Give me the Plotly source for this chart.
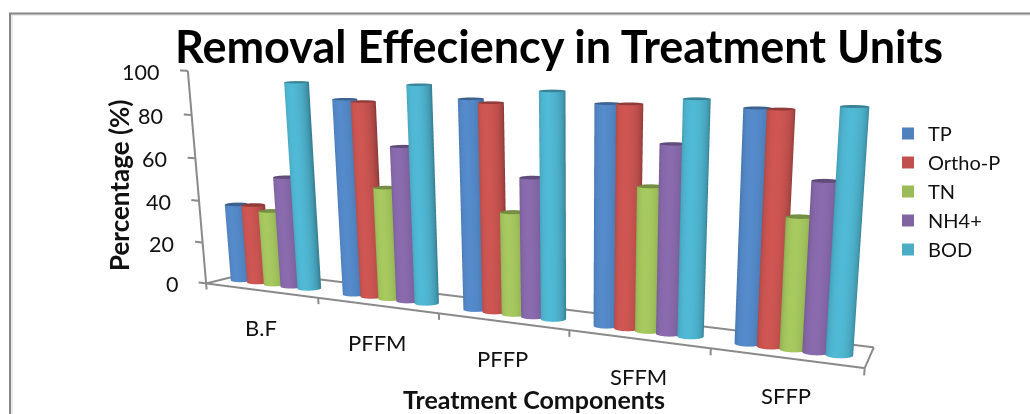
import numpy as np
import plotly.graph_objects as go

CATEGORIES = ["B.F", "PFFM", "PFFP", "SFFM", "SFFP"]
TP = [37, 89.8, 93.4, 94.9, 96.7]
ORTHO_P = [37.5, 89.3, 92.3, 95.3, 96.8]
TN = [35.5, 51.6, 45.9, 62.2, 55.1]
NH4 = [52.2, 70.7, 61.7, 80.3, 70.1]
BOD = [96, 98.1, 98.7, 98.9, 99.4]
SERIES_NAMES = ["TP", "Ortho-P", "TN", "NH4+", "BOD"]
SERIES_VALUES = [TP, ORTHO_P, TN, NH4, BOD]
SERIES_COLORS = [(79, 129, 189), (192, 80, 77), (155, 187, 89), (128, 100, 162), (75, 172, 198)]
Z_TICKS = [0, 20, 40, 60, 80, 100]

FIG_W, FIG_H = 1030, 1500
FONT = "Lato"
AXIS_GREY = "#8a8a8a"
TEXT = "#111111"

# Cylinder geometry, in category and depth units of the scene
RADIUS_X = 0.082
RADIUS_Y = 0.178
BAR_STEP = 0.151
GROUP_OFFSET = -0.06
SEGMENTS = 48

# Floor extents
FLOOR_BACK = 1.15
FLOOR_BACK_END = 4.84

# Scene box and the size of one data unit inside it
X_RANGE = [-0.1, 5.02]
Y_RANGE = [-0.05, FLOOR_BACK + 0.05]
Z_RANGE = [-4, 100.5]
UNIT = np.array([1 / 5, 0.0921, 0.283 / 100])
ASPECT = [(r[1] - r[0]) * u for r, u in zip((X_RANGE, Y_RANGE, Z_RANGE), UNIT)]

# Camera given relative to the floor-to-100 box, then moved to the padded box
box_mid = np.array([sum(X_RANGE) / 2, sum(Y_RANGE) / 2, sum(Z_RANGE) / 2])
floor_mid = np.array([2.5, 0.5, 50])
cam_shift = (box_mid - floor_mid) * UNIT
EYE = np.array([1.281, -2.016, 0.353]) - cam_shift
CENTER = np.array([0.2136, -0.2184, -0.631]) - cam_shift
VIEW_ANGLE = np.arctan2(EYE[1], EYE[0])


def shade(rgb, factor):
    return "rgb(%d,%d,%d)" % tuple(min(255, int(c * factor)) for c in rgb)


def cylinder(cx, height, rgb, name):
    angles = np.linspace(0, 2 * np.pi, SEGMENTS, endpoint=False)
    xs = cx + RADIUS_X * np.cos(angles)
    ys = 0.5 + RADIUS_Y * np.sin(angles)
    facing = np.cos(angles - VIEW_ANGLE + 0.35)
    side = [shade(rgb, 0.76 + 0.32 * max(f, 0) ** 0.8) for f in facing]
    x = np.concatenate([xs, xs, xs, [cx]])
    y = np.concatenate([ys, ys, ys, [0.5]])
    z = np.concatenate([np.zeros(SEGMENTS), np.full(SEGMENTS, height), np.full(SEGMENTS, height), [height]])
    colors = side + side + [shade(rgb, 0.74)] * SEGMENTS + [shade(rgb, 0.78)]
    i, j, k = [], [], []
    for s in range(SEGMENTS):
        n = (s + 1) % SEGMENTS
        i += [s, n]
        j += [n, SEGMENTS + n]
        k += [SEGMENTS + s, SEGMENTS + s]
        i.append(2 * SEGMENTS + s)
        j.append(2 * SEGMENTS + n)
        k.append(3 * SEGMENTS)
    return go.Mesh3d(
        x=x, y=y, z=z, i=i, j=j, k=k, vertexcolor=colors, name=name, showlegend=False, hoverinfo="skip",
        flatshading=False,
        lighting=dict(ambient=1, diffuse=0, specular=0, fresnel=0, roughness=1),
    )


def axis_line(x, y, z):
    return go.Scatter3d(x=x, y=y, z=z, mode="lines", line=dict(color=AXIS_GREY, width=4),
                        showlegend=False, hoverinfo="skip")


fig = go.Figure()
n_cat = len(CATEGORIES)

# Floor outline, each edge on its own, then category ticks and the value axis
fig.add_trace(axis_line([0, n_cat], [0, 0], [0, 0]))
fig.add_trace(axis_line([n_cat, FLOOR_BACK_END], [0, FLOOR_BACK], [0, 0]))
fig.add_trace(axis_line([FLOOR_BACK_END, 0], [FLOOR_BACK, FLOOR_BACK], [0, 0]))
fig.add_trace(axis_line([0, 0], [FLOOR_BACK, 0], [0, 0]))
for t in range(n_cat + 1):
    fig.add_trace(axis_line([t, t], [0, 0], [0, -3]))
fig.add_trace(axis_line([0, 0], [0, 0], [0, 100]))
for v in Z_TICKS:
    fig.add_trace(axis_line([0, -0.07], [0, 0], [v, v]))

for s, (name, values, rgb) in enumerate(zip(SERIES_NAMES, SERIES_VALUES, SERIES_COLORS)):
    for c, value in enumerate(values):
        fig.add_trace(cylinder(c + 0.5 + GROUP_OFFSET + (s - 2) * BAR_STEP, value, rgb, name))
    fig.add_trace(go.Scatter3d(
        x=[None], y=[None], z=[None], mode="markers", name=name,
        marker=dict(symbol="square", size=22, color=shade(rgb, 1)), hoverinfo="skip",
    ))

scene_notes = []
for c, label in enumerate(CATEGORIES):
    scene_notes.append(dict(x=c + 0.5, y=0, z=0, text=label, showarrow=False, yshift=-37,
                            font=dict(family=FONT, size=22, color=TEXT)))
for v in Z_TICKS:
    scene_notes.append(dict(x=0, y=0, z=v, text=str(v), showarrow=False, xanchor="right", xshift=-26,
                            yshift=-1, font=dict(family=FONT, size=21.5, color=TEXT)))

hidden = dict(visible=False, showgrid=False, zeroline=False, showspikes=False)


def py(px):
    return 1 - px / FIG_H


def frame_line(x0, y0, x1, y1, color, width):
    return dict(type="line", xref="paper", yref="paper", x0=x0 / FIG_W, x1=x1 / FIG_W, y0=py(y0), y1=py(y1),
                line=dict(color=color, width=width), layer="above")


fig.update_layout(
    width=FIG_W, height=FIG_H, margin=dict(l=0, r=0, t=0, b=0, pad=0), autosize=False,
    paper_bgcolor="white", showlegend=True,
    font=dict(family=FONT, color=TEXT),
    title=dict(text="<b>Removal Effeciency in Treatment Units</b>", x=559 / FIG_W, xanchor="center",
               y=py(47), yanchor="middle", font=dict(family=FONT, size=45, color="#000000")),
    legend=dict(x=888 / FIG_W, y=py(114), xanchor="left", yanchor="top", itemsizing="constant",
                bgcolor="rgba(0,0,0,0)", font=dict(family=FONT, size=20, color=TEXT)),
    scene=dict(
        domain=dict(x=[0.12, 1], y=[0, 1]),
        xaxis=dict(range=X_RANGE, **hidden),
        yaxis=dict(range=Y_RANGE, **hidden),
        zaxis=dict(range=Z_RANGE, **hidden),
        aspectmode="manual", aspectratio=dict(x=ASPECT[0], y=ASPECT[1], z=ASPECT[2]),
        camera=dict(eye=dict(x=EYE[0], y=EYE[1], z=EYE[2]), center=dict(x=CENTER[0], y=CENTER[1], z=CENTER[2]),
                    up=dict(x=0, y=0, z=1), projection=dict(type="perspective")),
        bgcolor="white",
        annotations=scene_notes,
    ),
    annotations=[
        dict(x=534 / FIG_W, y=py(399), xref="paper", yref="paper", text="<b>Treatment Components</b>",
             xanchor="center", yanchor="middle", showarrow=False, font=dict(family=FONT, size=25, color=TEXT)),
        dict(x=119 / FIG_W, y=py(185), xref="paper", yref="paper", text="<b>Percentage (%)</b>", textangle=-90,
             xanchor="center", yanchor="middle", showarrow=False, font=dict(family=FONT, size=26, color=TEXT)),
    ],
    shapes=[
        frame_line(9, 15, FIG_W, 15, "#d4d4d4", 1),
        frame_line(12, 15, 12, FIG_H, "#d4d4d4", 1),
        frame_line(9, 13.5, FIG_W, 13.5, "#868686", 2),
        frame_line(10, 13, 10, FIG_H, "#868686", 2),
    ],
)

fig.write_html("out.html", config=dict(displayModeBar=False))
